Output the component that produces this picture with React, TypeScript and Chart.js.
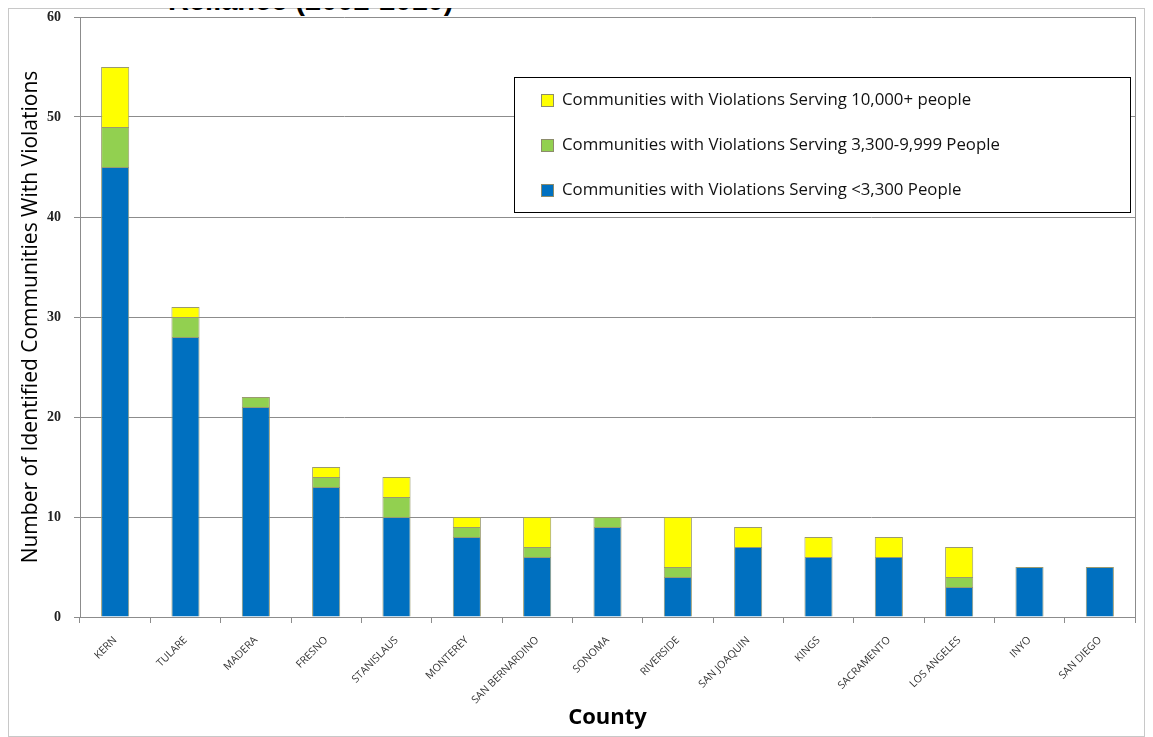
import React, { useEffect, useRef } from 'react';
import { Chart, registerables } from 'chart.js';

Chart.register(...registerables);

const counties = ['KERN', 'TULARE', 'MADERA', 'FRESNO', 'STANISLAUS', 'MONTEREY', 'SAN BERNARDINO', 'SONOMA', 'RIVERSIDE', 'SAN JOAQUIN', 'KINGS', 'SACRAMENTO', 'LOS ANGELES', 'INYO', 'SAN DIEGO'];
const under3300 = [45, 28, 21, 13, 10, 8, 6, 9, 4, 7, 6, 6, 3, 5, 5];
const from3300to9999 = [4, 2, 1, 1, 2, 1, 1, 1, 1, 0, 0, 0, 1, 0, 0];
const over10000 = [6, 1, 0, 1, 2, 1, 3, 0, 5, 2, 2, 2, 3, 0, 0];
const seriesNames = [
  'Communities with Violations Serving <3,300 People',
  'Communities with Violations Serving 3,300-9,999 People',
  'Communities with Violations Serving 10,000+ people',
];
const seriesColors = ['#0070C0', '#92D050', '#FFFF00'];
const yTickValues = [0, 10, 20, 30, 40, 50, 60];

const nz = (a: number[]) => a.map((v) => (v === 0 ? null : v));

const boxLegend = {
  id: 'boxLegend',
  afterDraw(chart: any) {
    const { ctx, chartArea } = chart;
    const w = 616;
    const h = 135;
    const x = chartArea.right - 5 - w;
    const y = chartArea.top + 60;
    ctx.save();
    ctx.fillStyle = '#ffffff';
    ctx.fillRect(x, y, w, h);
    ctx.strokeStyle = '#000000';
    ctx.lineWidth = 1;
    ctx.strokeRect(x + 0.5, y + 0.5, w, h);
    ctx.font = '16.8px "Open Sans"';
    ctx.textBaseline = 'middle';
    const order = [2, 1, 0];
    order.forEach((di, i) => {
      const cy = y + 23 + i * 45;
      ctx.fillStyle = seriesColors[di];
      ctx.fillRect(x + 27, cy - 6, 13, 13);
      ctx.strokeStyle = '#8c8c6c';
      ctx.strokeRect(x + 27.5, cy - 5.5, 12, 12);
      ctx.fillStyle = '#111111';
      ctx.fillText(seriesNames[di], x + 48, cy);
    });
    // right border of plot area
    ctx.strokeStyle = '#8c8c8c';
    ctx.beginPath();
    ctx.moveTo(chartArea.right + 0.5, chartArea.top);
    ctx.lineTo(chartArea.right + 0.5, chartArea.bottom);
    ctx.stroke();
    ctx.restore();
  },
};

export default function App() {
  const ref = useRef<HTMLCanvasElement>(null);
  useEffect(() => {
    if (!ref.current) return;
    const ds = [under3300, from3300to9999, over10000].map((d, i) => ({
      label: seriesNames[i],
      data: nz(d),
      backgroundColor: seriesColors[i],
      borderColor: '#9a9a70',
      borderWidth: 1,
      barPercentage: 0.4,
      categoryPercentage: 1.0,
    }));
    const chart = new Chart(ref.current, {
      type: 'bar',
      data: { labels: counties, datasets: ds },
      options: {
        animation: false,
        responsive: false,
        maintainAspectRatio: false,
        layout: { padding: { top: 9, right: 10, left: 0, bottom: 0 } },
        plugins: { legend: { display: false }, tooltip: { enabled: false } },
        scales: {
          x: {
            stacked: true,
            grid: { display: true, drawOnChartArea: false, drawTicks: true, tickLength: 6, color: '#8c8c8c', offset: true },
            border: { display: true, color: '#8c8c8c' },
            ticks: {
              maxRotation: 45,
              minRotation: 45,
              autoSkip: false,
              padding: 11,
              color: '#333333',
              font: { family: '"Open Sans"', size: 10.5 },
            },
            title: {
              display: true,
              text: 'County',
              color: '#000000',
              font: { family: '"Open Sans"', size: 22, weight: 'bold' },
              padding: { top: 4, bottom: 6 },
            },
            afterFit: (s: any) => { s.height = 120; s.paddingLeft = 0; s.paddingRight = 0; },
          },
          y: {
            stacked: true,
            min: 0,
            max: 60,
            afterBuildTicks: (s: any) => { s.ticks = yTickValues.map((v) => ({ value: v })); },
            grid: { color: '#8c8c8c', tickLength: 6, drawTicks: true },
            border: { display: true, color: '#8c8c8c' },
            ticks: {
              padding: 13,
              color: '#222222',
              font: { family: '"Liberation Serif"', size: 14, weight: 'bold' },
            },
            title: {
              display: true,
              text: 'Number of Identified Communities With Violations',
              color: '#000000',
              font: { family: '"Open Sans"', size: 21, weight: 'normal' },
              padding: { top: 10, bottom: 0 },
            },
            afterFit: (s: any) => { s.width = 72; s.paddingTop = 0; s.paddingBottom = 0; },
          },
        },
      },
      plugins: [boxLegend],
    });
    return () => chart.destroy();
  }, []);
  return (
    <div style={{ position: 'relative', width: 1137, height: 729, boxSizing: 'border-box' }}>
      <div style={{ position: 'absolute', left: 0, top: 0, width: 1137, height: 729, border: '1px solid #c8c8c8', boxSizing: 'border-box' }} />
      <div style={{ position: 'absolute', left: 160, top: -24, lineHeight: 'normal', fontFamily: '"Liberation Sans", Arial, sans-serif', fontWeight: 'bold', fontSize: 29, color: '#000', whiteSpace: 'nowrap' }}>
        Reliance (2002-2010)
      </div>
      <canvas ref={ref} width={1137} height={729} style={{ position: 'absolute', left: 0, top: 0 }} />
    </div>
  );
}
